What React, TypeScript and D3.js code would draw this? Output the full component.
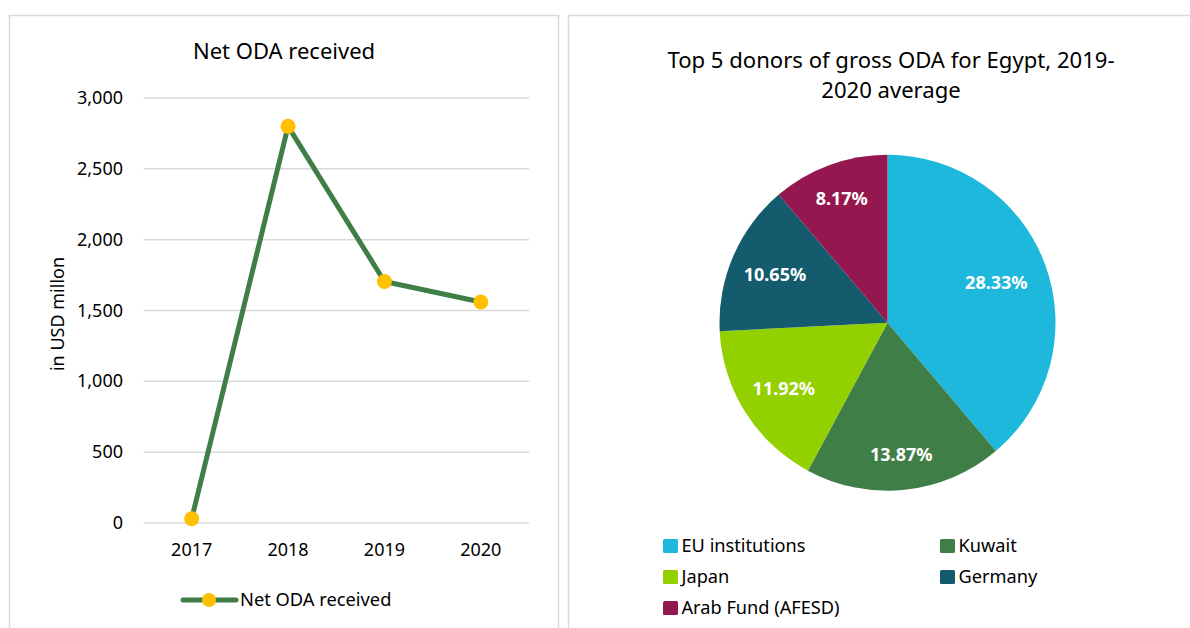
import * as d3 from "d3";

const years = ["2017", "2018", "2019", "2020"];
const netOda = [30, 2800, 1705, 1560];
const yTicks = [0, 500, 1000, 1500, 2000, 2500, 3000];

const donors = ["EU institutions", "Kuwait", "Japan", "Germany", "Arab Fund (AFESD)"];
const shares = [28.33, 13.87, 11.92, 10.65, 8.17];
const donorColors = ["#1fb8dd", "#3f7f47", "#92d000", "#145b6e", "#95174f"];
// label distance from centre, as a share of the radius (Excel "best fit")
const labelPos = [0.69, 0.79, 0.73, 0.73, 0.79];

const FONT = "'Noto Sans', 'Open Sans', sans-serif";

function LineChart() {
  const x = d3.scaleBand().domain(years).range([143.5, 529]);
  const y = d3.scaleLinear().domain([0, 3000]).range([523, 98]);
  const line = d3
    .line<number>()
    .x((d, i) => x(years[i])! + x.bandwidth() / 2)
    .y((d) => y(d));

  return (
    <g>
      <rect x={9.5} y={15.5} width={549} height={640} fill="#fff" stroke="#d9d9d9" strokeWidth={1.5} />
      <text x={284} y={59} textAnchor="middle" fontSize={22} fill="#000">
        Net ODA received
      </text>
      {yTicks.map((t) => (
        <g key={t}>
          <line x1={143.5} x2={529} y1={y(t)} y2={y(t)} stroke="#d9d9d9" strokeWidth={1.5} />
          <text x={123} y={y(t) + 6} textAnchor="end" fontSize={18} fill="#000">
            {d3.format(",")(t)}
          </text>
        </g>
      ))}
      {years.map((yr) => (
        <text key={yr} x={x(yr)! + x.bandwidth() / 2} y={556} textAnchor="middle" fontSize={18} fill="#000">
          {yr}
        </text>
      ))}
      <text transform="translate(64,314) rotate(-90)" textAnchor="middle" fontSize={18} fill="#000">
        in USD millon
      </text>
      <path d={line(netOda)!} fill="none" stroke="#3f7f47" strokeWidth={5} strokeLinejoin="round" />
      {netOda.map((v, i) => (
        <circle key={i} cx={x(years[i])! + x.bandwidth() / 2} cy={y(v)} r={7.5} fill="#ffc000" />
      ))}
      <line x1={183} x2={236} y1={600} y2={600} stroke="#3f7f47" strokeWidth={5} strokeLinecap="round" />
      <circle cx={209} cy={600} r={7} fill="#ffc000" />
      <text x={240} y={606} fontSize={18.3} fill="#000">
        Net ODA received
      </text>
    </g>
  );
}

function PieChart() {
  const cx = 887.5;
  const cy = 322.7;
  const r = 168;
  const arcs = d3.pie<number>().sort(null).value((d) => d)(shares);
  const arc = d3.arc<d3.PieArcDatum<number>>().innerRadius(0).outerRadius(r);

  return (
    <g>
      <rect x={568.5} y={15.5} width={640} height={640} fill="#fff" stroke="#d9d9d9" strokeWidth={1.5} />
      <text x={891} y={68} textAnchor="middle" fontSize={22.1} fill="#000">
        Top 5 donors of gross ODA for Egypt, 2019-
      </text>
      <text x={891} y={98} textAnchor="middle" fontSize={22.1} fill="#000">
        2020 average
      </text>
      <g transform={`translate(${cx},${cy})`}>
        {arcs.map((a, i) => (
          <path key={i} d={arc(a)!} fill={donorColors[i]} />
        ))}
        {arcs.map((a, i) => {
          const mid = (a.startAngle + a.endAngle) / 2;
          const d = labelPos[i] * r;
          return (
            <text
              key={i}
              x={Math.sin(mid) * d}
              y={-Math.cos(mid) * d + 6.5}
              textAnchor="middle"
              fontSize={18}
              fontWeight="bold"
              fill="#fff"
            >
              {shares[i].toFixed(2)}%
            </text>
          );
        })}
      </g>
      {donors.map((name, i) => {
        const col = i % 2;
        const row = Math.floor(i / 2);
        const lx = col === 0 ? 663 : 940;
        const ly = 546 + row * 31;
        return (
          <g key={name}>
            <rect x={lx} y={ly - 7} width={15} height={14} rx={1.5} fill={donorColors[i]} />
            <text x={lx + 18.5} y={ly + 6} fontSize={18.2} fill="#000">
              {name}
            </text>
          </g>
        );
      })}
    </g>
  );
}

export default function App() {
  return (
    <svg
      width={1190}
      height={628}
      style={{ position: "absolute", left: 0, top: 0, background: "#fff", fontFamily: FONT }}
    >
      <rect width={1190} height={628} fill="#fff" />
      <LineChart />
      <PieChart />
    </svg>
  );
}
